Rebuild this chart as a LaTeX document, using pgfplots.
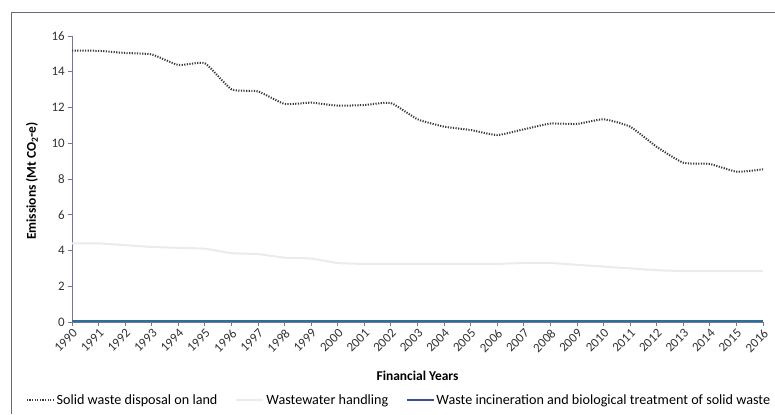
\documentclass[border=0pt]{standalone}
\usepackage{fontspec}
\setmainfont{Carlito}
\usepackage{pgfplots}
\pgfplotsset{compat=1.18}
\definecolor{axisc}{HTML}{7474A0}
\definecolor{framec}{HTML}{6A6A7A}
\definecolor{solidc}{HTML}{3A3A3A}
\definecolor{wastec}{HTML}{E8ECEC}
\definecolor{incinc}{HTML}{2B6E98}
\definecolor{incleg}{HTML}{3D4F9A}
\begin{document}
\begin{tikzpicture}[x=1bp,y=1bp]
\useasboundingbox (0,0) rectangle (775,414);
\draw[framec, line width=1bp] (11,0) -- (11,401) -- (775,401);
\begin{axis}[
  at={(72bp,92bp)}, anchor=south west,
  scale only axis, width=691bp, height=286bp,
  xmin=1990, xmax=2016, ymin=0, ymax=16,
  axis lines*=left,
  axis line style={axisc, line width=1bp},
  xtick={1990,...,2016}, ytick={0,2,...,16},
  tick style={axisc, line width=0.8bp}, major tick length=4bp, tick align=outside,
  /pgf/number format/1000 sep={},
  /pgf/number format/assume math mode=true,
  ticklabel style={font=\fontsize{13}{13}\selectfont, text=black!80},
  xticklabel style={rotate=45, anchor=north east, inner sep=1.5bp},
  yticklabel style={inner sep=3bp},
  xlabel={\textbf{Financial Years}},
  xlabel style={at={(axis description cs:0.5,-0.189)}, anchor=center, font=\fontsize{13.5}{13.5}\selectfont},
  ylabel={\textbf{Emissions (Mt CO\textsubscript{2}-e)}},
  ylabel style={at={(axis description cs:-0.058,0.493)}, anchor=center, font=\fontsize{13.5}{13.5}\selectfont},
  legend style={at={(axis description cs:-0.071,-0.273)}, anchor=west, draw=none, fill=none,
    font=\fontsize{14.2}{14.2}\selectfont, legend columns=3,
    /tikz/every even column/.append style={column sep=16bp}},
  legend cell align=left,
  legend image code/.code={\draw[#1] (0bp,0bp) -- (27bp,0bp);},
]
\addlegendimage{solidc, line width=1.5bp, dash pattern=on 1.2bp off 1.4bp}
\addlegendentry{Solid waste disposal on land}
\addlegendimage{wastec, line width=2bp}
\addlegendentry{Wastewater handling}
\addlegendimage{incleg, line width=1.2bp}
\addlegendentry{Waste incineration and biological treatment of solid waste}
\addplot[forget plot, wastec, line width=2bp, smooth, tension=0.3] coordinates {
(1990,4.4) (1991,4.4) (1992,4.3) (1993,4.2) (1994,4.15) (1995,4.1) (1996,3.85) (1997,3.8)
(1998,3.6) (1999,3.55) (2000,3.3) (2001,3.25) (2002,3.25) (2003,3.25) (2004,3.25) (2005,3.25)
(2006,3.25) (2007,3.3) (2008,3.3) (2009,3.2) (2010,3.1) (2011,3.0) (2012,2.9) (2013,2.85)
(2014,2.85) (2015,2.85) (2016,2.85)};
\addplot[forget plot, incinc, line width=2.5bp] coordinates {
(1990,0.05) (1991,0.05) (1992,0.05) (1993,0.05) (1994,0.05) (1995,0.05) (1996,0.05) (1997,0.05)
(1998,0.05) (1999,0.05) (2000,0.05) (2001,0.05) (2002,0.05) (2003,0.05) (2004,0.05) (2005,0.05)
(2006,0.05) (2007,0.05) (2008,0.05) (2009,0.05) (2010,0.05) (2011,0.05) (2012,0.05) (2013,0.05)
(2014,0.05) (2015,0.05) (2016,0.05)};
\addplot[forget plot, solidc, line width=2bp, dash pattern=on 1.2bp off 1.4bp, smooth, tension=0.3] coordinates {
(1990,15.18) (1991,15.17) (1992,15.05) (1993,14.97) (1994,14.38) (1995,14.47) (1996,13.02) (1997,12.9)
(1998,12.2) (1999,12.27) (2000,12.1) (2001,12.14) (2002,12.25) (2003,11.34) (2004,10.93) (2005,10.74)
(2006,10.46) (2007,10.78) (2008,11.1) (2009,11.08) (2010,11.34) (2011,10.93) (2012,9.8) (2013,8.91)
(2014,8.84) (2015,8.41) (2016,8.54)};
\end{axis}
\end{tikzpicture}
\end{document}
